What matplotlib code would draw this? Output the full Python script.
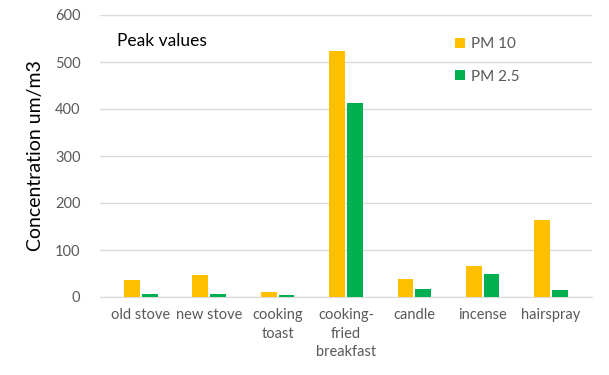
import numpy as np
from matplotlib import pyplot as plt

categories = ["old stove", "new stove", "cooking\ntoast", "cooking-\nfried\nbreakfast",
              "candle", "incense", "hairspray"]
pm10 = [36, 47, 11, 524, 38, 67, 164]
pm25 = [6, 6, 4, 413, 18, 49, 15]

plt.rcParams['font.family'] = ['Lato', 'DejaVu Sans']
text_col = '#595959'

fig = plt.figure(figsize=(6.09, 3.75), dpi=100)
ax = fig.add_axes([0.164, 0.208, 0.808, 0.752])

x = np.arange(len(categories))
w = 0.23
ax.bar(x - 0.13, pm10, width=w, color='#FFC000', label='PM 10', zorder=3)
ax.bar(x + 0.13, pm25, width=w, color='#00B050', label='PM 2.5', zorder=3)

ax.set_ylim(0, 600)
ax.set_xlim(-0.6, len(categories) - 0.4)
ax.set_yticks(range(0, 601, 100))
ax.yaxis.grid(True, color='#D9D9D9', linewidth=1, zorder=0)
for s in ['top', 'right', 'left']:
    ax.spines[s].set_visible(False)
ax.spines['bottom'].set_color('#D9D9D9')
ax.tick_params(axis='both', length=0, colors=text_col, labelsize=10.5)
ax.tick_params(axis='x', pad=8)
ax.tick_params(axis='y', pad=14)
ax.set_xticks(x)
ax.set_xticklabels(categories, linespacing=1.4)
ax.set_ylabel("Concentration um/m3", fontsize=14, color='#000000', labelpad=8)

ax.text(0.035, 0.89, "Peak values", transform=ax.transAxes, fontsize=12.5, color='#000000')
ax.legend(loc='upper right', bbox_to_anchor=(0.88, 0.97), frameon=False, fontsize=11,
          handlelength=0.6, handleheight=0.6, labelspacing=1.2, handletextpad=0.4,
          labelcolor=text_col)

fig.savefig("out.png", dpi=100)
